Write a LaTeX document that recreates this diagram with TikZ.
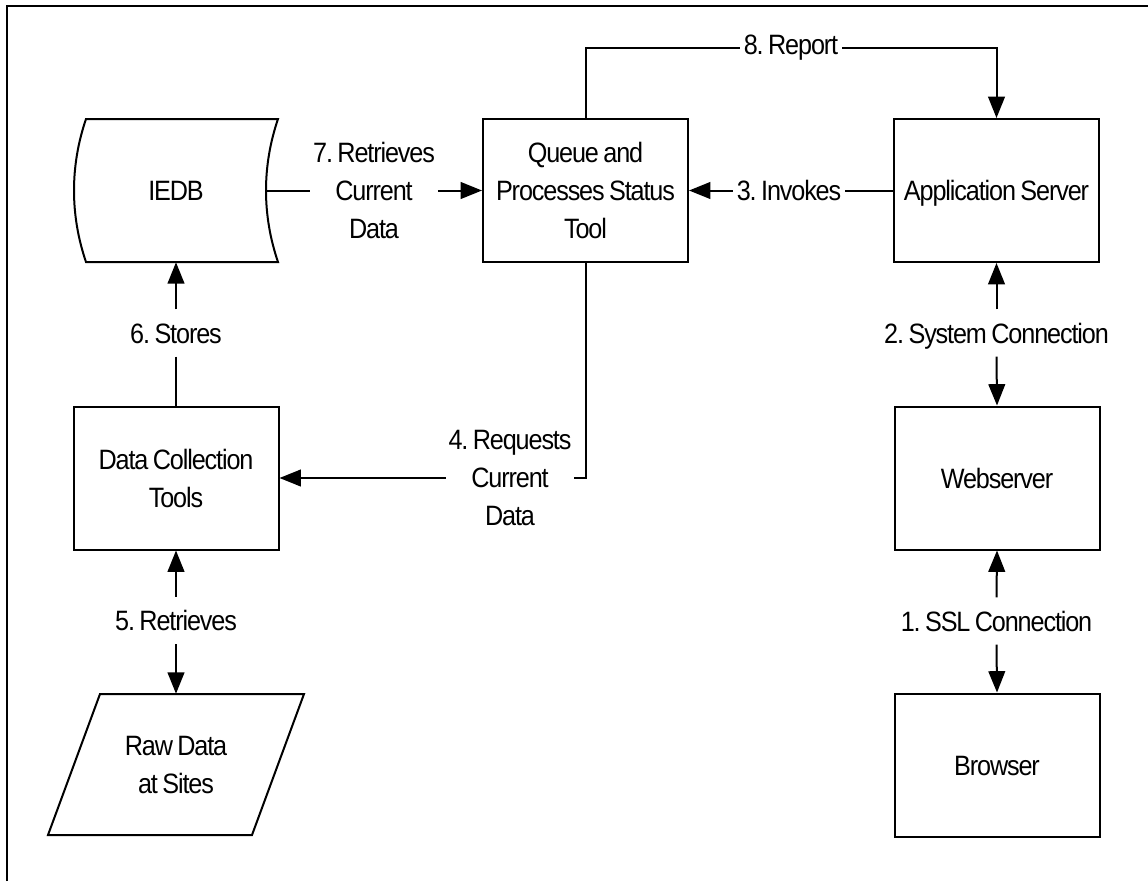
\documentclass[tikz,border=0pt]{standalone}
\usepackage{fontspec}
\setmainfont{Liberation Sans}[FakeStretch=0.9, LetterSpace=-4, WordSpace=0.75]
\frenchspacing
\usetikzlibrary{arrows.meta}
\tikzset{
  txt/.style={font=\fontsize{21}{28.5}\selectfont},
  box/.style={txt, draw, line width=1.5pt, minimum width=153.75pt, minimum height=107.25pt, align=center, inner sep=0pt},
  onebox/.style={box, text height=15pt, text depth=0pt},
  ghost/.style={txt, minimum width=153pt, minimum height=107.25pt, align=center, inner sep=0pt},
  vlbl/.style={txt, inner xsep=3pt, inner ysep=0pt, text height=15pt, text depth=0pt, minimum height=35pt},
  hlbl/.style={txt, inner xsep=3pt, inner ysep=2pt},
  mlbl/.style={txt, align=center, inner xsep=2pt, inner ysep=2pt},
  conn/.style={line width=1.5pt},
  arr/.style={conn, -{Triangle[length=16pt,width=12.5pt]}},
  shapeline/.style={line width=1.5pt, line join=miter}
}
\begin{document}
\begin{tikzpicture}[x=0.75pt, y=-0.75pt]
\useasboundingbox (0,0) rectangle (1148,881);
% frame
\draw[line width=1.5pt] (7,881) -- (7,6) -- (1148,6);

% IEDB (curved data store shape)
\node[ghost, text height=15pt, text depth=0pt] (iedb) at (176,190.5) {IEDB};
\draw[shapeline] (86,119) -- (278,119) .. controls (262,166) and (262,215) .. (278,262)
  -- (86,262) .. controls (70,215) and (70,166) .. (86,119) -- cycle;
\coordinate (iedbR) at (266,190.5);

% boxes
\node[box] (queue) at (585.5,190.5) {Queue and\\Processes Status\\Tool};
\node[onebox] (app) at (996.5,190.5) {Application Server};
\node[onebox] (web) at (997,478) {Webserver};
\node[onebox] (browser) at (997,765) {Browser};
\node[box] (dct) at (176,478) {Data Collection\\Tools};

% raw data parallelogram
\node[ghost, minimum height=105.75pt] (raw) at (176,764.5) {Raw Data\\at Sites};
\draw[shapeline] (100,694) -- (304,694) -- (252,835) -- (48,835) -- cycle;

% labels
\node[mlbl] (l7) at (374,190.5) {7. Retrieves\\Current\\Data};
\node[hlbl] (l3) at (789,190.5) {3. Invokes};
\node[hlbl] (l8) at (791,48) {8. Report};
\node[vlbl] (l2) at (996.5,333) {2. System Connection};
\node[vlbl] (l1) at (996.5,621) {1. SSL Connection};
\node[vlbl] (l6) at (176,333) {6. Stores};
\node[vlbl] (l5) at (176,620.5) {5. Retrieves};
\node[mlbl] (l4) at (510,478) {4. Requests\\Current\\Data};

% connectors
\draw[conn] (iedbR) -- (l7.west);
\draw[arr] (l7.east) -- (queue.west);
\draw[conn] (app.west) -- (l3.east);
\draw[arr] (l3.west) -- (queue.east);
\draw[conn] (queue.north) |- (l8.west);
\draw[arr] (l8.east) -| (app.north);
\draw[arr] (l2.north) -- (app.south);
\draw[arr] (l2.south) -- (web.north);
\draw[arr] (l1.north) -- (web.south);
\draw[arr] (l1.south) -- (browser.north);
\draw[arr] (l6.north) -- (iedb.south);
\draw[conn] (l6.south) -- (dct.north);
\draw[arr] (l5.north) -- (dct.south);
\draw[arr] (l5.south) -- (raw.north);
\draw[conn] (queue.south) |- (l4.east);
\draw[arr] (l4.west) -- (dct.east);
\end{tikzpicture}
\end{document}
